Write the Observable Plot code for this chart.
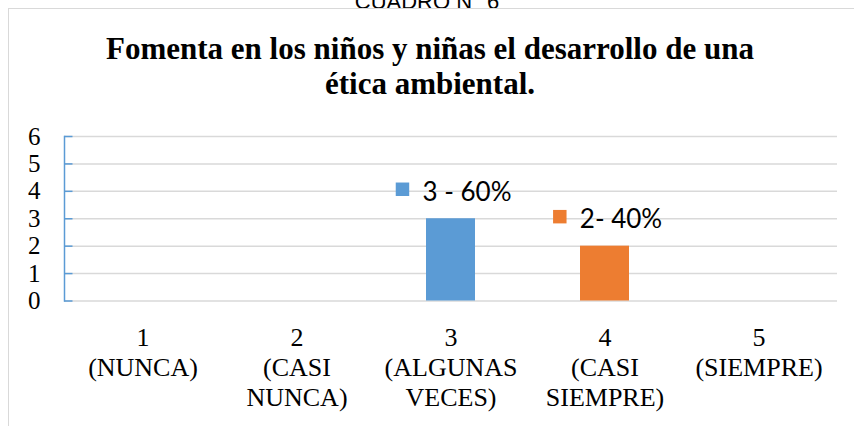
<!DOCTYPE html>
<html>
<head>
<meta charset="utf-8">
<script src="https://cdn.jsdelivr.net/npm/d3@7"></script>
<script src="https://cdn.jsdelivr.net/npm/@observablehq/plot@0.6"></script>
<style>
  html, body { margin: 0; padding: 0; background: #fff; }
  #wrap { position: relative; width: 854px; height: 426px; overflow: hidden; background: #fff; }
  #frame { position: absolute; left: 8px; top: 8px; width: 900px; height: 500px;
           border-left: 1.5px solid #d9d9d9; border-top: 1.5px solid #d9d9d9; }
  #cuadro { position: absolute; left: 0; width: 854px; top: -9px; text-align: center;
            font-family: "Liberation Sans", Arial, sans-serif; font-size: 22px; line-height: 22px; color: #000; }
  #title { position: absolute; left: 0; width: 860px; top: 31px; text-align: center;
           font-family: "Liberation Serif", "DejaVu Serif", serif; font-weight: 700;
           font-size: 31px; line-height: 35px; color: #000; }
  #chart { position: absolute; left: 0; top: 110px; }
</style>
</head>
<body>
<div id="wrap">
  <div id="cuadro">CUADRO N° 6</div>
  <div id="frame"></div>
  <div id="title">Fomenta en los niños y niñas el desarrollo de una<br>ética ambiental.</div>
  <div id="chart"></div>
</div>
<script>
// ---- data ----
const categories = ["1\n(NUNCA)", "2\n(CASI\nNUNCA)", "3\n(ALGUNAS\nVECES)", "4\n(CASI\nSIEMPRE)", "5\n(SIEMPRE)"];
const counts = [0, 0, 3, 2, 0];
const pointLabels = ["", "", "3 - 60%", "2- 40%", ""];
const yTicks = [0, 1, 2, 3, 4, 5, 6];

// ---- styling ----
const blue = "#5b9bd5", orange = "#ed7d31";
const barPalette = [blue, blue, blue, orange, blue];
const labelFont = "26px Lato";

const data = categories.map((c, i) => ({category: c, value: counts[i], label: pointLabels[i]}));
const labelled = data.filter(d => d.label);

const ctx = document.createElement("canvas").getContext("2d");
ctx.font = labelFont;

const tickSymbol = { draw(context) { context.moveTo(0, 0); context.lineTo(8, 0); } };

const markerMarks = labelled.map(d => {
  const w = ctx.measureText(d.label).width;
  return Plot.dot([d], {
    x: "category", y: "value", dx: 16 - w / 2 - 20, dy: -29.5,
    symbol: "square", r: 7.6, fill: "category"
  });
});

const chart = Plot.plot({
  width: 854,
  height: 316,
  marginTop: 26,
  marginBottom: 125.5,
  marginLeft: 64,
  marginRight: 17,
  style: {fontFamily: "'Liberation Serif', 'Times New Roman', serif", fontSize: "26px", color: "#000", background: "transparent", overflow: "visible"},
  x: {domain: categories, paddingInner: 0.683, paddingOuter: 0.3415, axis: null},
  y: {domain: [0, 6], axis: null},
  color: {domain: categories, range: barPalette},
  marks: [
    Plot.ruleY(yTicks, {stroke: "#d9d9d9", strokeWidth: 1.5}),
    Plot.barY(data, {x: "category", y: "value", fill: "category"}),
    Plot.frame({anchor: "left", stroke: blue, strokeWidth: 1.5}),
    Plot.dot(yTicks, {y: d => d, frameAnchor: "left", symbol: tickSymbol, fill: "none", stroke: blue, strokeWidth: 1.5}),
    Plot.axisY({ticks: yTicks, tickSize: 0, tickPadding: 24, fontSize: 25, fill: "#000", label: null, tickFormat: d => String(d)}),
    Plot.axisX({tickSize: 0, tickPadding: 24, fontSize: 26, lineHeight: 30 / 26, fill: "#000", label: null}),
    Plot.text(labelled, {x: "category", y: "value", text: "label", dx: 16, dy: -18, lineAnchor: "bottom",
      fontFamily: "Lato", fontSize: 26, fill: "#000"}),
    ...markerMarks
  ]
});
document.getElementById("chart").appendChild(chart);
</script>
</body>
</html>
